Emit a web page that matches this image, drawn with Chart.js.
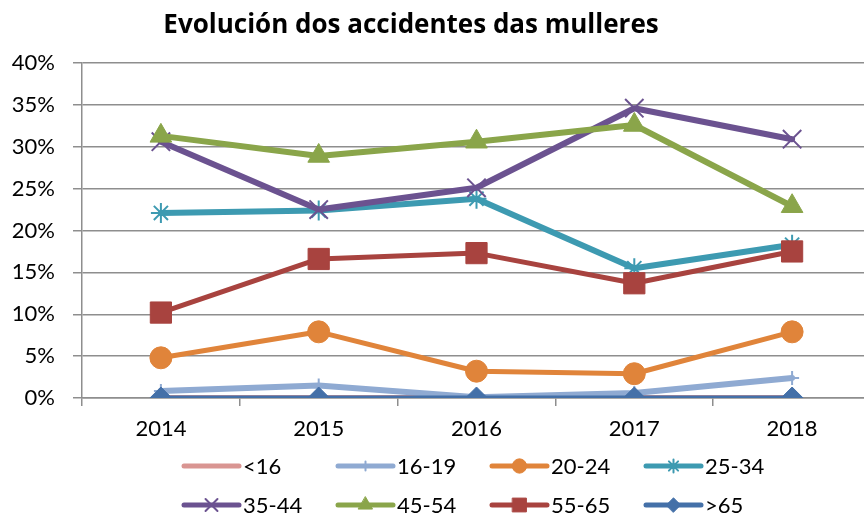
<!DOCTYPE html>
<html>
<head>
<meta charset="utf-8">
<script src="https://cdn.jsdelivr.net/npm/chart.js@4"></script>
<style>
  html, body { margin: 0; padding: 0; background: #fff; overflow: hidden; }
  #wrap { width: 864px; height: 515px; overflow: hidden; position: relative; }
  #wrap canvas { position: absolute; left: 0; top: 0; }
</style>
</head>
<body>
<div id="wrap"><canvas id="chart" width="887" height="515"></canvas></div>
<script>
// data (percent)
const chartTitle = 'Evolución dos accidentes das mulleres';
const years = ['2014', '2015', '2016', '2017', '2018'];
const ageGroups = ['<16', '16-19', '20-24', '25-34', '35-44', '45-54', '55-65', '>65'];
const under16 = [0, 0, 0, 0, 0];
const age16to19 = [0.85, 1.5, 0.1, 0.6, 2.4];
const age20to24 = [4.8, 7.9, 3.2, 2.9, 7.9];
const age25to34 = [22.1, 22.4, 23.8, 15.5, 18.3];
const age35to44 = [30.6, 22.5, 25.1, 34.6, 30.9];
const age45to54 = [31.3, 28.9, 30.6, 32.6, 22.9];
const age55to65 = [10.2, 16.6, 17.3, 13.7, 17.5];
const over65 = [0, 0, 0, 0, 0];
const yTicks = { min: 0, max: 40, step: 5 };

const seriesValues = [under16, age16to19, age20to24, age25to34, age35to44, age45to54, age55to65, over65];

// look of each series
const seriesStyles = [
  { color: '#D99592', width: 6, point: false, radius: 0, pw: 0 },
  { color: '#8FAAD2', width: 6, point: 'cross', radius: 7, pw: 2 },
  { color: '#E0843A', width: 5, point: 'circle', radius: 11, pw: 1 },
  { color: '#3D9AB1', width: 6, point: 'star', radius: 10, pw: 2 },
  { color: '#6B5290', width: 6, point: 'crossRot', radius: 13, pw: 2 },
  { color: '#8AA54A', width: 6, point: 'triangle', radius: 12.5, pw: 1 },
  { color: '#A8433F', width: 5, point: 'rect', radius: 15, pw: 1 },
  { color: '#4470A8', width: 5, point: 'rectRot', radius: 11, pw: 1 }
];

const font = 'Lato';
const gridGray = '#8e8e8e';

const datasets = ageGroups.map((name, i) => {
  const s = seriesStyles[i];
  return {
    label: name,
    data: seriesValues[i],
    borderColor: s.color,
    borderWidth: s.width,
    borderCapStyle: 'round',
    borderJoinStyle: 'round',
    pointStyle: s.point,
    pointRadius: s.radius,
    pointBackgroundColor: s.color,
    pointBorderColor: s.color,
    pointBorderWidth: s.pw,
    tension: 0,
    fill: false,
    order: ageGroups.length - 1 - i
  };
});

const titlePlugin = {
  id: 'sheetTitle',
  afterDraw(chart) {
    const ctx = chart.ctx;
    ctx.save();
    ctx.font = 'bold 26px "Open Sans"';
    ctx.fillStyle = '#000';
    ctx.textAlign = 'center';
    ctx.textBaseline = 'middle';
    ctx.fillText(chartTitle, 411, 26);
    ctx.restore();
  }
};

// excel-like legend: 4 columns, 2 rows
const legendPlugin = {
  id: 'sheetLegend',
  afterDraw(chart) {
    const ctx = chart.ctx;
    chart.data.datasets.forEach((ds, i) => {
      const col = i % 4, row = Math.floor(i / 4);
      const x0 = 184 + col * 154, y = 466 + row * 39;
      ctx.save();
      ctx.strokeStyle = ds.borderColor;
      ctx.lineWidth = 5;
      ctx.lineCap = 'round';
      ctx.beginPath();
      ctx.moveTo(x0, y);
      ctx.lineTo(x0 + 55, y);
      ctx.stroke();
      if (ds.pointStyle && ds.pointRadius > 0) {
        ctx.fillStyle = ds.pointBackgroundColor;
        ctx.strokeStyle = ds.pointBorderColor;
        ctx.lineWidth = ds.pointBorderWidth;
        Chart.helpers.drawPoint(ctx, {
          pointStyle: ds.pointStyle,
          radius: ds.pointRadius * 0.65,
          rotation: 0,
          borderWidth: ds.pointBorderWidth
        }, x0 + 27.5, y);
      }
      ctx.fillStyle = '#000';
      ctx.font = '22px ' + font;
      ctx.textAlign = 'left';
      ctx.textBaseline = 'middle';
      ctx.fillText(ds.label, x0 + 59, y + 1);
      ctx.restore();
    });
  }
};

new Chart(document.getElementById('chart'), {
  type: 'line',
  data: { labels: years, datasets: datasets },
  plugins: [titlePlugin, legendPlugin],
  options: {
    responsive: false,
    animation: false,
    layout: { padding: { top: 63, bottom: 77, left: 0, right: 0 } },
    plugins: {
      legend: { display: false },
      title: { display: false },
      tooltip: { enabled: false }
    },
    scales: {
      x: {
        offset: true,
        grid: { offset: true, drawOnChartArea: false, drawTicks: true, tickLength: 8, color: gridGray, lineWidth: 1.5 },
        border: { color: gridGray, width: 1.5 },
        ticks: { color: '#000', font: { family: font, size: 22 }, padding: 10 },
        afterFit: (scale) => { scale.height = 40; }
      },
      y: {
        min: yTicks.min,
        max: yTicks.max,
        grid: { color: gridGray, lineWidth: 1.5, tickLength: 9 },
        border: { color: gridGray, width: 1.5 },
        ticks: {
          stepSize: yTicks.step,
          color: '#000',
          font: { family: font, size: 22 },
          padding: 18,
          callback: (v) => v + '%'
        },
        afterFit: (scale) => { scale.width = 82; }
      }
    }
  }
});
</script>
</body>
</html>
